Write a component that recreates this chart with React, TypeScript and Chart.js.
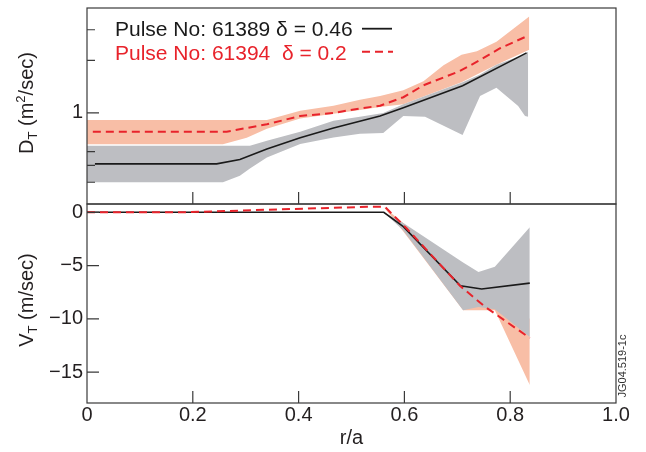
import React, { useEffect, useRef } from 'react';
import { Chart, registerables } from 'chart.js';
Chart.register(...registerables);

const FONT = '"Liberation Sans", Arial, Helvetica, sans-serif';
const INK = '#231f20';
const AXIS = '#3a3a3a';
const RED = '#e8232b';
const BLACK = '#1a1a1a';
const PINK = '#f8bea6';
const GRAY = '#bdbec2';

// ---- Top panel: D_T (m^2/sec), logarithmic ----
const dBlackX = [0.015, 0.245, 0.289, 0.340, 0.403, 0.466, 0.554, 0.598, 0.710, 0.831];
const dBlackY = [0.51, 0.51, 0.54, 0.62, 0.72, 0.82, 0.96, 1.07, 1.43, 2.21];
const dRedX = [0.011, 0.264, 0.340, 0.403, 0.466, 0.516, 0.554, 0.598, 0.636, 0.705, 0.743, 0.781, 0.831];
const dRedY = [0.78, 0.78, 0.86, 0.96, 1.0, 1.06, 1.1, 1.23, 1.44, 1.74, 2.01, 2.35, 2.75];
const dPinkX = [0, 0.257, 0.302, 0.340, 0.403, 0.466, 0.516, 0.554, 0.598, 0.636, 0.674, 0.708, 0.737, 0.774, 0.836];
const dPinkHi = [0.91, 0.91, 0.91, 0.91, 1.03, 1.1, 1.19, 1.25, 1.35, 1.52, 1.88, 2.16, 2.26, 2.56, 3.58];
const dPinkLo = [0.66, 0.66, 0.72, 0.81, 0.93, 0.99, 1.04, 1.08, 1.12, 1.24, 1.37, 1.5, 1.66, 1.89, 2.3];
const dGrayX = [0, 0.245, 0.257, 0.289, 0.308, 0.340, 0.403, 0.466, 0.516, 0.560, 0.598, 0.639, 0.710, 0.743, 0.774, 0.815, 0.828, 0.834];
const dGrayHi = [0.648, 0.648, 0.648, 0.648, 0.648, 0.692, 0.78, 0.9, 0.95, 1.0, 1.12, 1.25, 1.5, 1.66, 1.89, 2.1, 2.18, 2.25];
const dGrayLo = [0.4, 0.4, 0.4, 0.436, 0.48, 0.555, 0.662, 0.722, 0.759, 0.766, 0.961, 0.949, 0.746, 1.251, 1.395, 1.096, 0.961, 0.95];

// ---- Bottom panel: V_T (m/sec), linear ----
const vBlackX = [0, 0.561, 0.598, 0.706, 0.746, 0.837];
const vBlackY = [0, 0, -1.35, -6.9, -7.2, -6.65];
const vRedX = [0, 0.181, 0.53, 0.563, 0.604, 0.705, 0.752, 0.837];
const vRedY = [0, 0, 0.52, 0.52, -1.5, -6.9, -8.85, -11.8];
const vBandX = [0.561, 0.598, 0.711, 0.74, 0.771, 0.837];
const vGrayHi = [0, -1.0, -4.7, -5.6, -5.1, -1.4];
const vGrayLo = [0, -1.7, -9.2, -8.9, -9.1, -11.7];
const vPinkHi = [0.5, -1.0, -6.2, -7.0, -7.8, -10.0];
const vPinkLo = [0.5, -1.8, -9.2, -9.2, -9.2, -16.2];

// ---- Axes / labels ----
const xTicks = [0, 0.2, 0.4, 0.6, 0.8, 1.0];
const dTicks = [0.4, 0.5, 0.6, 1, 2, 3];
const dLabeled = [1];
const vTicks = [-15, -10, -5, 0];
const legendLabels = ['Pulse No: 61389 δ = 0.46', 'Pulse No: 61394  δ = 0.2'];
const xTitle = 'r/a';
const stamp = 'JG04.519-1c';

const pts = (xs: number[], ys: number[]) => xs.map((x, i) => ({ x, y: ys[i] }));
const TRANSPARENT = 'rgba(0,0,0,0)';

const lineDs = (data: any, color: string, dash: number[], width: number) => ({
  data, borderColor: color, borderWidth: width, borderDash: dash, fill: false, pointRadius: 0, tension: 0,
});
const bandDs = (hi: any, lo: any, color: string) => [
  { data: hi, borderColor: TRANSPARENT, borderWidth: 0, backgroundColor: color, fill: '+1', pointRadius: 0, tension: 0 },
  { data: lo, borderColor: TRANSPARENT, borderWidth: 0, fill: false, pointRadius: 0, tension: 0 },
];

type Part = { t: string; size: number; dy: number };
function drawRotTitle(ctx: CanvasRenderingContext2D, cx: number, cy: number, parts: Part[]) {
  ctx.save();
  ctx.translate(cx, cy);
  ctx.rotate(-Math.PI / 2);
  ctx.fillStyle = INK;
  ctx.textBaseline = 'alphabetic';
  ctx.textAlign = 'left';
  const widths = parts.map((p) => { ctx.font = `${p.size}px ${FONT}`; return ctx.measureText(p.t).width; });
  const total = widths.reduce((a, b) => a + b, 0);
  let x = -total / 2;
  parts.forEach((p, i) => {
    ctx.font = `${p.size}px ${FONT}`;
    ctx.fillText(p.t, x, 7 + p.dy);
    x += widths[i];
  });
  ctx.restore();
}

function drawFrame(chart: any, yTicks: number[], majorY: (v: number) => boolean) {
  const { ctx, chartArea: a, scales } = chart;
  ctx.save();
  ctx.strokeStyle = AXIS;
  ctx.lineWidth = 1.2;
  ctx.strokeRect(a.left, a.top, a.right - a.left, a.bottom - a.top);
  ctx.beginPath();
  yTicks.forEach((v) => {
    const py = scales.y.getPixelForValue(v);
    const len = majorY(v) ? 12 : 8;
    ctx.moveTo(a.left, py);
    ctx.lineTo(a.left + len, py);
  });
  xTicks.forEach((v) => {
    if (v <= 0 || v >= 1) return;
    const px = scales.x.getPixelForValue(v);
    ctx.moveTo(px, a.bottom);
    ctx.lineTo(px, a.bottom - 12);
  });
  ctx.stroke();
  ctx.restore();
}

const topPlugin = {
  id: 'topDecor',
  afterDatasetsDraw(chart: any) {
    const { ctx, chartArea: a } = chart;
    drawFrame(chart, dTicks, (v) => dLabeled.includes(v));
    // legend
    ctx.save();
    ctx.font = `21px ${FONT}`;
    ctx.textBaseline = 'alphabetic';
    ctx.textAlign = 'left';
    ctx.fillStyle = BLACK;
    ctx.fillText(legendLabels[0], a.left + 28, a.top + 28);
    ctx.fillStyle = RED;
    ctx.fillText(legendLabels[1], a.left + 28, a.top + 52);
    ctx.strokeStyle = BLACK;
    ctx.lineWidth = 1.8;
    ctx.beginPath();
    ctx.moveTo(a.left + 275, a.top + 20.7);
    ctx.lineTo(a.left + 305, a.top + 20.7);
    ctx.stroke();
    ctx.strokeStyle = RED;
    ctx.lineWidth = 2;
    ctx.setLineDash([8, 5]);
    ctx.beginPath();
    ctx.moveTo(a.left + 275, a.top + 43.7);
    ctx.lineTo(a.left + 306, a.top + 43.7);
    ctx.stroke();
    ctx.restore();
    drawRotTitle(ctx, a.left - 61, a.top + 95, [
      { t: 'D', size: 20, dy: 0 },
      { t: 'T', size: 13, dy: 4 },
      { t: ' (m', size: 20, dy: 0 },
      { t: '2', size: 13, dy: -8 },
      { t: '/sec)', size: 20, dy: 0 },
    ]);
  },
};

const bottomPlugin = {
  id: 'bottomDecor',
  afterDatasetsDraw(chart: any) {
    const { ctx, chartArea: a } = chart;
    drawFrame(chart, vTicks, () => true);
    drawRotTitle(ctx, a.left - 61, a.top + 96, [
      { t: 'V', size: 20, dy: 0 },
      { t: 'T', size: 13, dy: 4 },
      { t: ' (m/sec)', size: 20, dy: 0 },
    ]);
    ctx.save();
    ctx.fillStyle = INK;
    ctx.font = `20px ${FONT}`;
    ctx.textAlign = 'center';
    ctx.textBaseline = 'middle';
    ctx.fillText(xTitle, (a.left + a.right) / 2, a.bottom + 35);
    ctx.translate(a.right + 6.5, a.top + 162);
    ctx.rotate(-Math.PI / 2);
    ctx.font = `11px ${FONT}`;
    ctx.fillStyle = '#333';
    ctx.fillText(stamp, 0, 0);
    ctx.restore();
  },
};

const tickFont = { size: 20, family: FONT };
const minus = (v: number) => (v < 0 ? '\u2212' + Math.abs(v) : String(v));

export default function App() {
  const topRef = useRef<HTMLCanvasElement>(null);
  const botRef = useRef<HTMLCanvasElement>(null);

  useEffect(() => {
    const charts: Chart[] = [];
    if (topRef.current) {
      charts.push(new Chart(topRef.current, {
        type: 'line',
        data: {
          datasets: [
            lineDs(pts(dRedX, dRedY), RED, [8, 5], 2),
            lineDs(pts(dBlackX, dBlackY), BLACK, [], 1.6),
            ...bandDs(pts(dGrayX, dGrayHi), pts(dGrayX, dGrayLo), GRAY),
            ...bandDs(pts(dPinkX, dPinkHi), pts(dPinkX, dPinkLo), PINK),
          ] as any,
        },
        options: {
          animation: false,
          responsive: false,
          devicePixelRatio: 1,
          layout: { padding: { left: 0, right: 30, top: 20, bottom: 20 } },
          plugins: { legend: { display: false }, tooltip: { enabled: false } },
          scales: {
            x: {
              type: 'linear', min: 0, max: 1,
              grid: { display: false }, border: { display: false },
              ticks: { display: false },
              afterFit: (s: any) => { s.height = 0; },
            },
            y: {
              type: 'logarithmic', min: 0.3, max: 4,
              grid: { display: false, drawTicks: false }, border: { display: false },
              afterBuildTicks: (s: any) => { s.ticks = dTicks.map((v) => ({ value: v })); },
              ticks: {
                autoSkip: false, padding: 4, color: INK, font: tickFont,
                callback: (v: any) => (dLabeled.includes(Number(v)) ? String(v) : ''),
              },
              afterFit: (s: any) => { s.width = 87; },
            },
          },
        } as any,
        plugins: [topPlugin],
      }));
    }
    if (botRef.current) {
      charts.push(new Chart(botRef.current, {
        type: 'line',
        data: {
          datasets: [
            lineDs(pts(vRedX, vRedY), RED, [8, 5], 2),
            lineDs(pts(vBlackX, vBlackY), BLACK, [], 1.6),
            ...bandDs(pts(vBandX, vGrayHi), pts(vBandX, vGrayLo), GRAY),
            ...bandDs(pts(vBandX, vPinkHi), pts(vBandX, vPinkLo), PINK),
          ] as any,
        },
        options: {
          animation: false,
          responsive: false,
          devicePixelRatio: 1,
          layout: { padding: { left: 0, right: 30, top: 20, bottom: 0 } },
          plugins: { legend: { display: false }, tooltip: { enabled: false } },
          scales: {
            x: {
              type: 'linear', min: 0, max: 1,
              grid: { display: false, drawTicks: false }, border: { display: false },
              afterBuildTicks: (s: any) => { s.ticks = xTicks.map((v) => ({ value: v })); },
              ticks: {
                autoSkip: false, maxRotation: 0, padding: 0, color: INK, font: tickFont,
                callback: (v: any) => (Number(v) === 0 ? '0' : Number(v).toFixed(1)),
              },
              afterFit: (s: any) => { s.height = 49; },
            },
            y: {
              type: 'linear', min: -17.9, max: 0.78,
              grid: { display: false, drawTicks: false }, border: { display: false },
              afterBuildTicks: (s: any) => { s.ticks = vTicks.map((v) => ({ value: v })); },
              ticks: { autoSkip: false, padding: 4, color: INK, font: tickFont, callback: (v: any) => minus(Number(v)) },
              afterFit: (s: any) => { s.width = 87; },
            },
          },
        } as any,
        plugins: [bottomPlugin],
      }));
    }
    return () => charts.forEach((c) => c.destroy());
  }, []);

  return (
    <div style={{ position: 'absolute', left: 0, top: 0, width: 646, height: 452, overflow: 'hidden', background: '#fff' }}>
      <canvas ref={topRef} width={646} height={236} style={{ position: 'absolute', left: 0, top: -12, width: 646, height: 236 }} />
      <canvas ref={botRef} width={646} height={268} style={{ position: 'absolute', left: 0, top: 184, width: 646, height: 268 }} />
    </div>
  );
}
